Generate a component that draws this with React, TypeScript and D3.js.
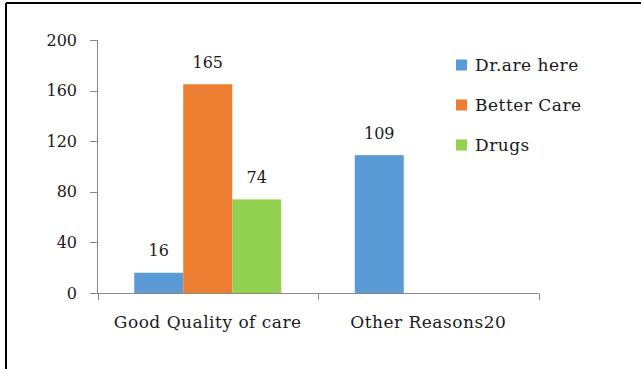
import React from "react";
import * as d3 from "d3";

const categories = ["Good Quality of care", "Other Reasons20"];
const seriesNames = ["Dr.are here", "Better Care", "Drugs"];
const drAreHere = [16, 109];
const betterCare = [165, 0];
const drugs = [74, 0];
const yTicks = [0, 40, 80, 120, 160, 200];
const colors = ["#5B9BD5", "#ED7D31", "#92D050"];

const W = 641;
const H = 369;
const font = "'DejaVu Serif', serif";

export default function App() {
  const values = [drAreHere, betterCare, drugs];
  const y = d3.scaleLinear().domain([0, 200]).range([293, 40]);
  const x0 = d3.scaleBand<string>().domain(categories).range([97.5, 538.5]).paddingInner(0).paddingOuter(0);
  const x1 = d3.scaleBand<string>().domain(seriesNames).range([0, x0.bandwidth()]).paddingInner(0).paddingOuter(0.75);
  const axisColor = "#898989";
  const textColor = "#1a1a1a";

  return (
    <svg width={W} height={H} style={{ position: "absolute", left: 0, top: 0 }} fontFamily={font}>
      <rect x={0} y={0} width={W} height={H} fill="#fff" />
      <line x1={6} y1={3} x2={W} y2={3} stroke="#000" strokeWidth={2} />
      <line x1={6} y1={3} x2={6} y2={H} stroke="#000" strokeWidth={2} />
      {/* y axis */}
      <line x1={97.5} y1={y(200)} x2={97.5} y2={y(0)} stroke={axisColor} />
      {yTicks.map((t) => (
        <g key={t}>
          <line x1={90} x2={97.5} y1={Math.round(y(t)) + 0.5} y2={Math.round(y(t)) + 0.5} stroke={axisColor} />
          <text x={77} y={y(t)} dy="0.35em" textAnchor="end" fontSize={16} fill={textColor}>
            {t}
          </text>
        </g>
      ))}
      {/* bars */}
      {categories.map((c, ci) =>
        seriesNames.map((s, si) => {
          const v = values[si][ci];
          if (!v) return null;
          const bx = x0(c)! + x1(s)!;
          return (
            <g key={c + s}>
              <rect x={bx} y={y(v)} width={x1.bandwidth()} height={y(0) - y(v)} fill={colors[si]} />
              <text x={bx + x1.bandwidth() / 2} y={y(v) - 22} dy="0.35em" textAnchor="middle" fontSize={16} fill={textColor}>
                {v}
              </text>
            </g>
          );
        })
      )}
      {/* x axis */}
      <line x1={97} x2={538.5} y1={293.5} y2={293.5} stroke={axisColor} />
      {[...categories.map((c) => x0(c)!), 538.5].map((t, i) => (
        <line key={i} x1={Math.round(t) + 0.5} x2={Math.round(t) + 0.5} y1={293.5} y2={300} stroke={axisColor} />
      ))}
      {categories.map((c) => (
        <text key={c} x={x0(c)! + x0.bandwidth() / 2} y={322.5} dy="0.35em" textAnchor="middle" fontSize={17} letterSpacing={0.5} fill={textColor}>
          {c}
        </text>
      ))}
      {/* legend */}
      {seriesNames.map((s, i) => (
        <g key={s} transform={`translate(456, ${65 + i * 40})`}>
          <rect x={0} y={-5.5} width={11} height={11} fill={colors[i]} />
          <text x={19} y={0} dy="0.35em" fontSize={17} letterSpacing={0.5} fill={textColor}>
            {s}
          </text>
        </g>
      ))}
    </svg>
  );
}
